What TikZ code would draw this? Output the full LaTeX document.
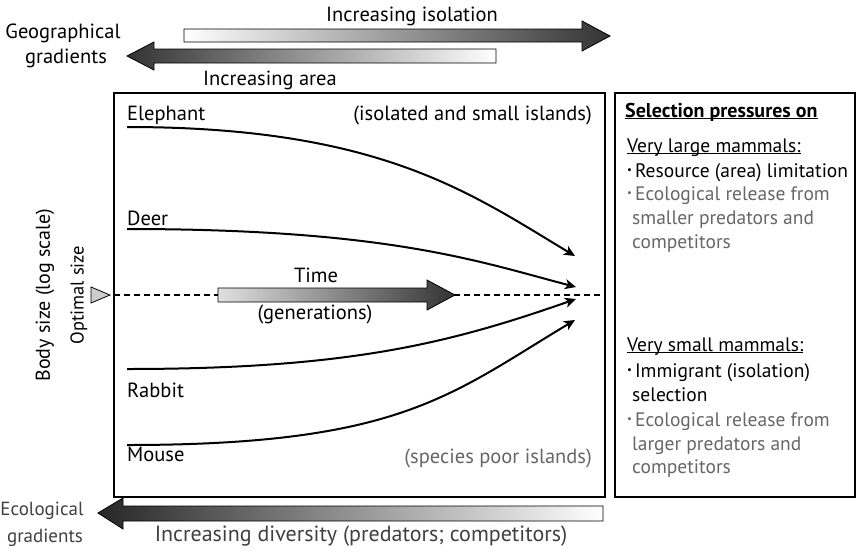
\documentclass[tikz,border=0pt]{standalone}
\usepackage{fontspec}
\setmainfont{PT Sans}
\usetikzlibrary{arrows.meta}

\newcommand\undl[1]{\setbox0\hbox{#1}\rlap{\rule[-2.2pt]{\wd0}{1.1pt}}\box0}
\newcommand\bul{\raisebox{0.18em}{\scalebox{0.55}{\textbullet}}\hspace{3pt}}

\tikzset{
  txt/.style={inner sep=0pt, font=\fontsize{20.5}{24}\selectfont},
  side/.style={inner sep=0pt, font=\fontsize{19.5}{23}\selectfont, anchor=base west},
  faded/.style={text=black!60},
  curve/.style={line width=2pt, -{Stealth[length=11pt,width=10pt,inset=3pt]}},
  fat/.style={draw=black, line width=0.8pt, line join=miter},
}

\begin{document}
\begin{tikzpicture}[x=1pt,y=-1pt]
\useasboundingbox (0,0) rectangle (858,552);

\node[txt, anchor=base] (geo1) at (63,38) {Geographical};
\node[txt, anchor=base] (geo2) at (66,63) {gradients};
\node[txt, anchor=base] (isol) at (412,21) {Increasing isolation};
\node[txt, anchor=base] (area) at (270,85) {Increasing area};

\shadedraw[fat, left color=white, right color=black!80]
  (184,29) -- (582,29) -- (582,21) -- (610,36) -- (582,51) -- (582,42) -- (184,42) -- cycle;
\shadedraw[fat, left color=black!80, right color=white]
  (496,49) -- (154,49) -- (154,42) -- (127,56) -- (154,70) -- (154,63) -- (496,63) -- cycle;

\draw[line width=1.1pt] (114,93) rectangle (605,497);
\draw[line width=1.1pt] (615,93) rectangle (855,497);

\node[txt, font=\fontsize{20}{24}\selectfont, rotate=90] (body) at (45,295) {Body size (log scale)};
\node[inner sep=0pt, font=\fontsize{18.5}{22}\selectfont, rotate=90] (opt) at (79,295) {Optimal size};
\draw[fill=black!20, line width=0.8pt, line join=miter] (91,287) -- (110,295) -- (91,303) -- cycle;

\draw[line width=2pt, dash pattern=on 6pt off 4pt] (114,295) -- (605,295);

\shadedraw[fat, left color=black!12, right color=black!80]
  (218,288) -- (427,288) -- (427,280) -- (455,295) -- (427,310) -- (427,302) -- (218,302) -- cycle;
\node[txt, anchor=base] (time) at (316,282) {Time};
\node[txt, anchor=base] (gen) at (315,319) {(generations)};

\node[txt, anchor=base west] (ele) at (127,120) {Elephant};
\node[txt, anchor=base west] (deer) at (127,225) {Deer};
\node[txt, anchor=base west] (rab) at (127,397) {Rabbit};
\node[txt, anchor=base west] (mou) at (127,461) {Mouse};
\node[txt, anchor=base east] (isl) at (592,120) {(isolated and small islands)};
\node[txt, faded, anchor=base east] (poor) at (592,463) {(species poor islands)};

\coordinate (eleS) at (127,127);
\coordinate (eleE) at (575,256);
\coordinate (deerS) at (127,229);
\coordinate (deerE) at (576,287);
\coordinate (rabS) at (127,369);
\coordinate (rabE) at (576,299);
\coordinate (mouS) at (127,445);
\coordinate (mouE) at (575,320);
\draw[curve] (eleS) .. controls (380,127) and (470,193) .. (eleE);
\draw[curve] (deerS) .. controls (390,229) and (480,262) .. (deerE);
\draw[curve] (rabS) .. controls (350,369) and (450,343) .. (rabE);
\draw[curve] (mouS) .. controls (400,445) and (450,395) .. (mouE);

\node[side, font=\fontsize{20}{23}\bfseries] (sel) at (625,117) {\undl{Selection pressures on}};
\node[side] (lg0) at (627,152) {\undl{Very large mammals:}};
\node[side] (lg1) at (627,177) {\bul Resource (area) limitation};
\node[side, faded] (lg2) at (627,200) {\bul Ecological release from};
\node[side, faded] (lg3) at (632,224) {smaller predators and};
\node[side, faded] (lg4) at (632,248) {competitors};
\node[side] (sm0) at (627,351) {\undl{Very small mammals:}};
\node[side] (sm1) at (627,377) {\bul Immigrant (isolation)};
\node[side] (sm2) at (632,401) {selection};
\node[side, faded] (sm3) at (627,426) {\bul Ecological release from};
\node[side, faded] (sm4) at (632,450) {larger predators and};
\node[side, faded] (sm5) at (632,473) {competitors};

\shadedraw[fat, left color=black!85, right color=white]
  (603,506) -- (123,506) -- (123,498) -- (98,513) -- (123,529) -- (123,521) -- (603,521) -- cycle;
\node[txt, font=\fontsize{19}{23}\selectfont, text=black!75, anchor=base] (eco1) at (42,515) {Ecological};
\node[txt, font=\fontsize{19}{23}\selectfont, text=black!75, anchor=base] (eco2) at (45,542) {gradients};
\node[txt, font=\fontsize{22}{26}\selectfont, text=black!75, anchor=base] (div) at (361,541) {Increasing diversity (predators; competitors)};
\end{tikzpicture}
\end{document}
